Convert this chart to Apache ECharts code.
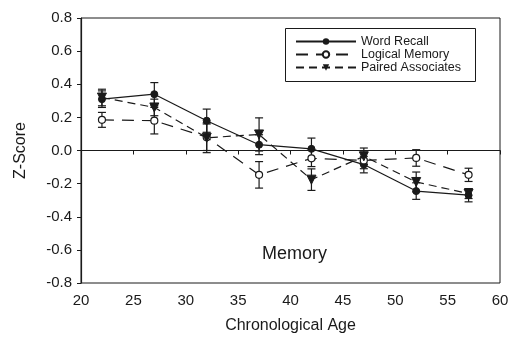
<!DOCTYPE html>
<html>
<head>
<meta charset="utf-8">
<script src="https://cdn.jsdelivr.net/npm/echarts@6/dist/echarts.min.js"></script>
<style>
  html, body { margin: 0; padding: 0; background: #fff; }
  #chart { width: 514px; height: 337px; }
</style>
</head>
<body>
<div id="chart"></div>
<script>
const ages = [22, 27, 32, 37, 42, 47, 52, 57];
const xTicks = [20, 25, 30, 35, 40, 45, 50, 55, 60];
const yTicks = [-0.8, -0.6, -0.4, -0.2, 0.0, 0.2, 0.4, 0.6, 0.8];

const wordRecall = [0.31, 0.34, 0.18, 0.035, 0.01, -0.085, -0.245, -0.27];
const wordRecallErr = [0.05, 0.07, 0.07, 0.06, 0.065, 0.05, 0.05, 0.04];

const logicalMemory = [0.185, 0.18, 0.08, -0.147, -0.047, -0.06, -0.045, -0.147];
const logicalMemoryErr = [0.045, 0.08, 0.08, 0.08, 0.05, 0.05, 0.05, 0.04];

const pairedAssoc = [0.32, 0.26, 0.077, 0.097, -0.176, -0.035, -0.19, -0.26];
const pairedAssocErr = [0.05, 0.05, 0.09, 0.1, 0.065, 0.05, 0.06, 0.03];

const ink = '#1a1a1a';
const font = 'Liberation Sans, Arial, sans-serif';

function pts(ys) { return ages.map((a, i) => [a, ys[i]]); }
function errs(ys, es) { return ages.map((a, i) => [a, ys[i] - es[i], ys[i] + es[i]]); }

function errorSeries(ys, es) {
  return {
    type: 'custom',
    silent: true,
    z: 1,
    data: errs(ys, es),
    renderItem: function (params, api) {
      const x = api.value(0);
      const lo = api.coord([x, api.value(1)]);
      const hi = api.coord([x, api.value(2)]);
      const w = 4;
      const st = { stroke: ink, lineWidth: 1.2 };
      return {
        type: 'group',
        children: [
          { type: 'line', shape: { x1: lo[0], y1: lo[1], x2: hi[0], y2: hi[1] }, style: st },
          { type: 'line', shape: { x1: lo[0] - w, y1: lo[1], x2: lo[0] + w, y2: lo[1] }, style: st },
          { type: 'line', shape: { x1: hi[0] - w, y1: hi[1], x2: hi[0] + w, y2: hi[1] }, style: st }
        ]
      };
    }
  };
}

const chart = echarts.init(document.getElementById('chart'));
chart.setOption({
  animation: false,
  backgroundColor: '#fff',
  textStyle: { fontFamily: font },
  grid: {
    left: 81, right: 14, top: 18, bottom: 54,
    containLabel: false, outerBoundsMode: 'none',
    show: true, borderColor: ink, borderWidth: 1
  },
  legend: {
    left: 290, top: 30,
    orient: 'vertical',
    itemWidth: 60, itemHeight: 8, itemGap: 0,
    textStyle: { fontSize: 12.5, lineHeight: 13, color: ink, fontFamily: font },
    data: ['Word Recall', 'Logical Memory', 'Paired Associates']
  },
  xAxis: {
    type: 'value', min: xTicks[0], max: xTicks[xTicks.length - 1], interval: 5,
    name: 'Chronological Age', nameLocation: 'middle', nameGap: 35,
    nameTextStyle: { fontSize: 16, color: ink, fontFamily: font },
    axisLine: { lineStyle: { color: ink, width: 1.2 } },
    axisTick: { show: true, length: 4, inside: false, lineStyle: { color: ink } },
    axisLabel: { fontSize: 15, color: ink, margin: 10 },
    splitLine: { show: false }
  },
  yAxis: {
    type: 'value', min: yTicks[0], max: yTicks[yTicks.length - 1], interval: 0.2,
    name: 'Z-Score', nameLocation: 'middle', nameGap: 52, nameRotate: 90,
    nameTextStyle: { fontSize: 16, color: ink, fontFamily: font },
    axisLine: { lineStyle: { color: ink, width: 1.2 } },
    axisTick: { show: true, length: 4, lineStyle: { color: ink } },
    axisLabel: { fontSize: 15, color: ink, margin: 9, formatter: v => v.toFixed(1) },
    splitLine: { show: false }
  },
  graphic: [
    { type: 'rect', left: 283, top: 26, shape: { width: 190, height: 53 },
      style: { fill: 'none', stroke: ink, lineWidth: 1 }, z: 100 },
    { type: 'text', left: 262, top: 245, z: 100,
      style: { text: 'Memory', fontSize: 18, fill: ink, fontFamily: font } }
  ],
  series: [
    {
      type: 'line', silent: true, data: [], symbol: 'none',
      markLine: {
        silent: true, symbol: 'none', label: { show: false },
        lineStyle: { color: ink, type: [10, 7], width: 1.2 },
        data: [{ yAxis: 0 }]
      }
    },
    errorSeries(wordRecall, wordRecallErr),
    errorSeries(logicalMemory, logicalMemoryErr),
    errorSeries(pairedAssoc, pairedAssocErr),
    {
      name: 'Word Recall', type: 'line', data: pts(wordRecall), z: 3,
      symbol: 'circle', symbolSize: 7,
      itemStyle: { color: ink, borderColor: ink },
      lineStyle: { color: ink, width: 1.2, type: 'solid' }
    },
    {
      name: 'Logical Memory', type: 'line', data: pts(logicalMemory), z: 3,
      symbol: 'circle', symbolSize: 7,
      itemStyle: { color: '#fff', borderColor: ink, borderWidth: 1.2 },
      lineStyle: { color: ink, width: 1.2, type: [12, 8] }
    },
    {
      name: 'Paired Associates', type: 'line', data: pts(pairedAssoc), z: 3,
      symbol: 'triangle', symbolRotate: 180, symbolSize: 9,
      itemStyle: { color: ink, borderColor: ink },
      lineStyle: { color: ink, width: 1.2, type: [8, 5] }
    }
  ]
});
</script>
</body>
</html>
